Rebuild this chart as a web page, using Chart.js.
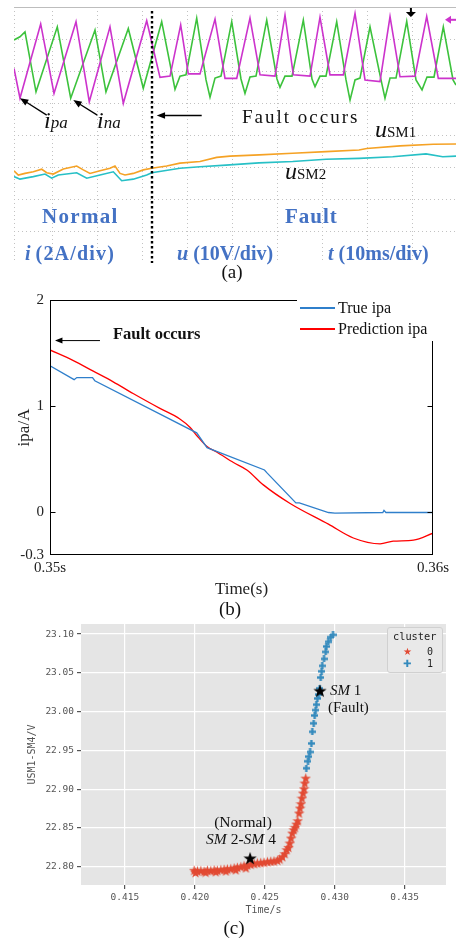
<!DOCTYPE html>
<html>
<head>
<meta charset="utf-8">
<title>ipa fault figure</title>
<script src="https://cdn.jsdelivr.net/npm/chart.js@4.4.1/dist/chart.umd.min.js"></script>
<style>
  body { margin: 0; width: 456px; height: 942px; position: relative; overflow: hidden; background: #fff; font-family: "Liberation Serif", serif; color: #111; }
  canvas { position: absolute; }
  .t { position: absolute; white-space: nowrap; line-height: 1; }
  .blue { color: #4472C4; font-weight: bold; }
  .mono { font-family: "DejaVu Sans Mono", monospace; }
</style>
</head>
<body>
<canvas id="scopeChart" width="442" height="256" style="left:14px;top:7px"></canvas>
<canvas id="ipaChart" width="456" height="320" style="left:0;top:285px"></canvas>
<canvas id="clusterChart" width="456" height="310" style="left:0;top:615px"></canvas>

<!-- (a) oscilloscope labels -->
<div class="t" style="left:44px;top:108px;font-style:italic;font-size:24px">i<span style="font-size:17px">pa</span></div>
<div class="t" style="left:97px;top:108px;font-style:italic;font-size:24px">i<span style="font-size:17px">na</span></div>
<div class="t" style="left:242px;top:107px;font-size:19px;letter-spacing:2px">Fault occurs</div>
<div class="t" style="left:375px;top:117px;font-size:24px"><i>u</i><span style="font-size:15px">SM1</span></div>
<div class="t" style="left:285px;top:159px;font-size:24px"><i>u</i><span style="font-size:15px">SM2</span></div>
<div class="t blue" style="left:42px;top:206px;font-size:21px;letter-spacing:1.3px">Normal</div>
<div class="t blue" style="left:285px;top:206px;font-size:21px;letter-spacing:1px">Fault</div>
<div class="t blue" style="left:25px;top:243px;font-size:20px"><i>i</i> <span style="letter-spacing:1.2px">(2A/div)</span></div>
<div class="t blue" style="left:177px;top:243px;font-size:20px"><i>u</i> (10V/div)</div>
<div class="t blue" style="left:328px;top:243px;font-size:20px"><i>t</i> (10ms/div)</div>
<div class="t" style="left:202px;width:60px;text-align:center;top:262px;font-size:19px">(a)</div>

<!-- (b) legend and labels -->
<div style="position:absolute;left:297px;top:294px;width:145px;height:47px;background:#fff"></div>
<div style="position:absolute;left:300px;top:307px;width:35px;height:2px;background:#2F7FCB"></div>
<div style="position:absolute;left:300px;top:328px;width:35px;height:2px;background:#FF0000"></div>
<div class="t" style="left:338px;top:300px;font-size:16px">True ipa</div>
<div class="t" style="left:338px;top:321px;font-size:16px">Prediction ipa</div>
<div class="t" style="left:113px;top:326px;font-size:16.5px;font-weight:bold">Fault occurs</div>
<div class="t" style="left:200px;width:60px;text-align:center;top:599px;font-size:19px">(b)</div>

<!-- (c) legend and labels -->
<div style="position:absolute;left:387px;top:627px;width:56px;height:46px;background:#e9e9e9;border:1px solid #d0d0d0;border-radius:3px;box-sizing:border-box"></div>
<div class="t mono" style="left:393px;top:631px;font-size:10.3px;color:#222">cluster</div>
<div class="t" style="left:403px;top:647px;font-size:10px;font-family:'DejaVu Sans';color:#E24A33">★</div>
<div class="t mono" style="left:427px;top:647px;font-size:10px;color:#222">0</div>
<div class="t" style="left:403px;top:659px;font-size:10px;font-family:'DejaVu Sans';color:#348ABD">✚</div>
<div class="t mono" style="left:427px;top:659px;font-size:10px;color:#222">1</div>
<div class="t" style="left:330px;top:683px;font-size:15px"><i>SM</i> 1</div>
<div class="t" style="left:328px;top:700px;font-size:15px">(Fault)</div>
<div class="t" style="left:203px;width:80px;text-align:center;top:814px;font-size:15.5px">(Normal)</div>
<div class="t" style="left:198px;width:86px;text-align:center;top:831px;font-size:15.5px"><i>SM</i> 2<b>-</b><i>SM</i> 4</div>
<div class="t" style="left:204px;width:60px;text-align:center;top:918px;font-size:19px">(c)</div>

<script>
// ---- (a) oscilloscope traces: time in ms (10 ms/div), level in screen divisions ----
var ipaTime = [0, 1.33, 5.93, 8.89, 13.78, 16.73, 21.33, 24.29, 29.49, 32.44, 34.67, 37.04, 38.73, 41.33, 44.67, 46.89, 49.49, 52.44, 54.67, 58.00, 60.22, 62.07, 65.78, 68.00, 70.22, 73.18, 75.78, 78.00, 81.33, 83.56, 85.78, 89.11, 91.71, 94.29, 98.22];
var ipaDiv = [6.08, 5.15, 7.47, 5.30, 7.54, 5.04, 7.38, 4.99, 7.57, 5.80, 5.84, 7.44, 5.91, 5.91, 7.62, 5.77, 5.77, 7.65, 5.88, 5.84, 7.75, 5.88, 5.84, 7.68, 5.88, 5.88, 7.80, 5.72, 5.67, 7.70, 5.82, 5.84, 7.70, 5.77, 5.77];
var inaTime = [0, 1.33, 2.44, 4.89, 9.62, 12.60, 18.00, 20.44, 25.40, 28.73, 32.82, 35.78, 36.89, 38.22, 40.60, 42.67, 43.56, 44.67, 46.00, 48.38, 50.44, 51.33, 52.44, 53.78, 56.16, 58.44, 59.11, 60.22, 61.78, 64.29, 66.22, 66.89, 68.00, 69.33, 71.71, 73.78, 74.67, 75.78, 76.89, 79.11, 81.56, 82.44, 83.56, 84.89, 87.27, 89.33, 90.67, 91.78, 93.33, 95.40, 97.56, 98.22];
var inaDiv = [6.97, 7.07, 7.22, 5.35, 7.38, 5.15, 7.28, 5.35, 7.33, 5.46, 7.54, 5.43, 5.84, 5.88, 7.65, 5.72, 5.18, 5.78, 5.84, 7.54, 5.75, 5.30, 5.81, 5.84, 7.59, 5.75, 5.49, 5.84, 5.84, 7.59, 5.75, 5.51, 5.84, 5.84, 7.54, 5.72, 5.09, 5.72, 5.78, 7.38, 5.72, 5.15, 5.78, 5.78, 7.55, 5.72, 5.41, 5.81, 5.81, 7.38, 5.72, 5.56];
var usm1Time = [0, 0.96, 2.44, 4.29, 6.16, 7.27, 8.73, 10.96, 13.93, 15.40, 16.89, 19.11, 21.33, 22.44, 23.56, 24.67, 26.51, 28.73, 30.60, 33.93, 36.89, 41.33, 45.04, 48.00, 54.51, 61.93, 69.33, 76.67, 78.38, 85.78, 93.18, 98.22];
var usm1Div = [2.88, 2.75, 2.80, 2.85, 2.93, 2.82, 2.78, 2.94, 3.03, 2.91, 2.80, 2.88, 2.96, 3.03, 2.80, 2.75, 2.80, 2.91, 2.96, 3.03, 3.12, 3.17, 3.30, 3.34, 3.38, 3.43, 3.48, 3.53, 3.58, 3.66, 3.71, 3.72];
var usm2Time = [0, 1.33, 4.29, 6.89, 8.38, 9.84, 13.93, 16.16, 19.11, 22.07, 23.93, 26.51, 29.49, 30.60, 36.89, 41.33, 47.11, 54.44, 61.93, 69.33, 76.67, 84.16, 91.56, 95.27, 98.22];
var usm2Div = [2.70, 2.62, 2.70, 2.78, 2.65, 2.75, 2.82, 2.65, 2.75, 2.85, 2.57, 2.62, 2.75, 2.82, 2.96, 3.01, 3.06, 3.13, 3.17, 3.24, 3.27, 3.32, 3.41, 3.32, 3.34];
var scopeGridMs = [0, 8.6, 18.6, 28.6, 38.6, 48.6, 58.6, 68.6, 78.6, 88.6];
var scopeGridDiv = [1, 2, 3, 4, 5, 6, 7];
var faultTime = 30.67;
var triggerTime = 88.2;
var ipaRefLevel = 7.6;
// arrows: [fromTime, fromDiv, toTime, toDiv]
var scopeArrows = [[7.27, 4.62, 1.33, 5.15], [18.51, 4.62, 13.18, 5.09], [41.71, 4.61, 31.71, 4.61]];

// ---- (b) true vs predicted ipa ----
var trueTime = [0.35000, 0.35063, 0.35070, 0.35111, 0.35117, 0.35383, 0.35410, 0.35560, 0.35566, 0.35642, 0.35651, 0.35727, 0.35744, 0.35869, 0.35872, 0.35877, 0.36000];
var trueIpa = [1.38, 1.25, 1.27, 1.27, 1.24, 0.75, 0.61, 0.40, 0.375, 0.09, 0.09, 0.00, -0.005, 0.0, 0.02, 0.0, 0.0];
var predTime = [0.35000, 0.35061, 0.35113, 0.35165, 0.35217, 0.35287, 0.35339, 0.35366, 0.35383, 0.35410, 0.35435, 0.35479, 0.35514, 0.35557, 0.35627, 0.35727, 0.35792, 0.35862, 0.35896, 0.35949, 0.36000];
var predIpa = [1.53, 1.43, 1.33, 1.23, 1.12, 0.98, 0.88, 0.80, 0.725, 0.62, 0.57, 0.47, 0.40, 0.26, 0.085, -0.11, -0.24, -0.295, -0.27, -0.26, -0.195];
var timeTicks = [0.35, 0.36];
var ipaTickValues = [-0.4, 0, 1, 2];
var ipaTickLabels = ["-0.3", "0", "1", "2"];
var faultArrow = [0.351305, 0.35013, 1.618];

// ---- (c) clustering of SM voltages ----
var cluster0Time = [0.41995, 0.42019, 0.42043, 0.42066, 0.42090, 0.42114, 0.42138, 0.42161, 0.42186, 0.42209, 0.42233, 0.42257, 0.42281, 0.42304, 0.42329, 0.42352, 0.42376, 0.42400, 0.42424, 0.42447, 0.42471, 0.42495, 0.42519, 0.42543, 0.42566, 0.42590, 0.42607, 0.42626, 0.42643, 0.42657, 0.42669, 0.42679, 0.42688, 0.42697, 0.42707, 0.42716, 0.42726, 0.42736, 0.42745, 0.42752, 0.42759, 0.42766, 0.42774, 0.42781, 0.42786, 0.42793, 0.42005, 0.42078, 0.42150, 0.42222, 0.42293, 0.42365];
var cluster0Volt = [22.7954, 22.7945, 22.7949, 22.7941, 22.7954, 22.7949, 22.7957, 22.7954, 22.7961, 22.7966, 22.7970, 22.7974, 22.7983, 22.7992, 22.8000, 22.8013, 22.8022, 22.8031, 22.8039, 22.8048, 22.8052, 22.8057, 22.8064, 22.8070, 22.8073, 22.8082, 22.8099, 22.8129, 22.8168, 22.8219, 22.8250, 22.8305, 22.8370, 22.8434, 22.8477, 22.8508, 22.8550, 22.8593, 22.8692, 22.8757, 22.8812, 22.8885, 22.8950, 22.9005, 22.9079, 22.9143, 22.7925, 22.7930, 22.7935, 22.7945, 22.7960, 22.7985];
var cluster1Time = [0.42797, 0.42809, 0.42816, 0.42824, 0.42833, 0.42840, 0.42850, 0.42857, 0.42864, 0.42869, 0.42876, 0.42887, 0.42893, 0.42900, 0.42907, 0.42911, 0.42924, 0.42936, 0.42940, 0.42954, 0.42971, 0.42988];
var cluster1Volt = [22.927, 22.936, 22.942, 22.948, 22.959, 22.974, 22.985, 22.995, 23.002, 23.009, 23.017, 23.022, 23.030, 23.044, 23.052, 23.059, 23.068, 23.077, 23.084, 23.090, 23.096, 23.099];
var markTime = [0.42395, 0.42895];
var markVolt = [22.811, 23.027];
var clusterTimeTicks = [0.415, 0.420, 0.425, 0.430, 0.435];
var clusterVoltTicks = [22.80, 22.85, 22.90, 22.95, 23.00, 23.05, 23.10];

function pairs(xs, ys) {
  return xs.map(function (v, i) { return { x: v, y: ys[i] }; });
}

function tickList(values) {
  return function (scale) { scale.ticks = values.map(function (v) { return { value: v }; }); };
}

function drawArrow(ctx, x1, y1, x2, y2, head, width) {
  var ang = Math.atan2(y2 - y1, x2 - x1);
  ctx.lineWidth = width;
  ctx.beginPath();
  ctx.moveTo(x1, y1);
  ctx.lineTo(x2 - Math.cos(ang) * head * 0.7, y2 - Math.sin(ang) * head * 0.7);
  ctx.stroke();
  ctx.beginPath();
  ctx.moveTo(x2, y2);
  ctx.lineTo(x2 - head * Math.cos(ang - 0.38), y2 - head * Math.sin(ang - 0.38));
  ctx.lineTo(x2 - head * Math.cos(ang + 0.38), y2 - head * Math.sin(ang + 0.38));
  ctx.closePath();
  ctx.fill();
}

// marker images for the scatter
function starImage(size, color) {
  var c = document.createElement("canvas");
  c.width = c.height = size;
  var g = c.getContext("2d");
  g.fillStyle = color;
  g.beginPath();
  for (var i = 0; i < 10; i++) {
    var r = i % 2 ? size * 0.2 : size * 0.5;
    var a = -Math.PI / 2 + i * Math.PI / 5;
    g.lineTo(size / 2 + r * Math.cos(a), size * 0.55 + r * Math.sin(a));
  }
  g.closePath();
  g.fill();
  return c;
}

function plusImage(size, color) {
  var c = document.createElement("canvas");
  c.width = c.height = size;
  var g = c.getContext("2d");
  var w = size / 3;
  g.fillStyle = color;
  g.fillRect(w, 0, w, size);
  g.fillRect(0, w, size, w);
  return c;
}

var serif = "'Liberation Serif', serif";
var mono = "'DejaVu Sans Mono', monospace";

// ---------------- (a) ----------------
var scopeOverlay = {
  id: "scopeOverlay",
  afterDatasetsDraw: function (chart) {
    var ctx = chart.ctx, a = chart.chartArea, x = chart.scales.x, y = chart.scales.y;
    ctx.save();
    ctx.strokeStyle = "#bdbdbd";
    ctx.lineWidth = 1;
    ctx.beginPath();
    ctx.moveTo(a.left, a.top + 0.5);
    ctx.lineTo(a.right, a.top + 0.5);
    ctx.stroke();

    var fx = Math.round(x.getPixelForValue(faultTime));
    ctx.strokeStyle = "#000";
    ctx.lineWidth = 2.4;
    ctx.setLineDash([2.5, 2.5]);
    ctx.beginPath();
    ctx.moveTo(fx, a.top + 4);
    ctx.lineTo(fx, a.bottom);
    ctx.stroke();
    ctx.setLineDash([]);

    ctx.fillStyle = "#000";
    scopeArrows.forEach(function (ar) {
      drawArrow(ctx, x.getPixelForValue(ar[0]), y.getPixelForValue(ar[1]), x.getPixelForValue(ar[2]), y.getPixelForValue(ar[3]), 9, 1.3);
    });

    // trigger marker
    var tx = x.getPixelForValue(triggerTime);
    ctx.fillRect(tx - 1, a.top + 1, 2, 5);
    ctx.beginPath();
    ctx.moveTo(tx - 5, a.top + 5);
    ctx.lineTo(tx + 5, a.top + 5);
    ctx.lineTo(tx, a.top + 10);
    ctx.closePath();
    ctx.fill();

    // ipa channel marker
    var my = y.getPixelForValue(ipaRefLevel);
    ctx.fillStyle = "#CC33CC";
    ctx.beginPath();
    ctx.moveTo(a.right - 11, my);
    ctx.lineTo(a.right - 5, my - 4);
    ctx.lineTo(a.right - 5, my + 4);
    ctx.closePath();
    ctx.fill();
    ctx.fillRect(a.right - 6, my - 1, 6, 2);
    ctx.restore();
  }
};

function traceStyle(color) {
  return { borderColor: color, borderWidth: 1.6, pointRadius: 0, tension: 0, fill: false };
}

new Chart(document.getElementById("scopeChart"), {
  type: "line",
  data: {
    datasets: [
      Object.assign({ label: "ipa", data: pairs(ipaTime, ipaDiv) }, traceStyle("#CC33CC")),
      Object.assign({ label: "ina", data: pairs(inaTime, inaDiv) }, traceStyle("#3CC23C")),
      Object.assign({ label: "uSM1", data: pairs(usm1Time, usm1Div) }, traceStyle("#F5A225")),
      Object.assign({ label: "uSM2", data: pairs(usm2Time, usm2Div) }, traceStyle("#27C0C6"))
    ]
  },
  options: {
    responsive: false,
    animation: false,
    layout: { padding: 0 },
    plugins: { legend: { display: false }, tooltip: { enabled: false } },
    scales: {
      x: {
        type: "linear", min: 0, max: 98.22,
        afterBuildTicks: tickList(scopeGridMs),
        afterFit: function (s) { s.height = 0; },
        ticks: { display: false },
        grid: { color: "#c2c2c2", drawTicks: false, lineWidth: 1 },
        border: { display: false, dash: [1, 3] }
      },
      y: {
        min: 0, max: 8,
        afterBuildTicks: tickList(scopeGridDiv),
        afterFit: function (s) { s.width = 0; },
        ticks: { display: false },
        grid: { color: "#c2c2c2", drawTicks: false, lineWidth: 1 },
        border: { display: false, dash: [1, 3] }
      }
    }
  },
  plugins: [scopeOverlay]
});

// ---------------- (b) ----------------
var ipaFrame = {
  id: "ipaFrame",
  afterDraw: function (chart) {
    var ctx = chart.ctx, a = chart.chartArea, x = chart.scales.x, y = chart.scales.y;
    ctx.save();
    ctx.strokeStyle = "#000";
    ctx.fillStyle = "#000";
    ctx.lineWidth = 1;
    var l = Math.round(a.left) + 0.5, r = Math.round(a.right) - 0.5;
    var t = Math.round(a.top) + 0.5, b = Math.round(a.bottom) - 0.5;
    ctx.strokeRect(l, t, r - l, b - t);
    ctx.beginPath();
    ipaTickValues.forEach(function (v) {
      if (v <= y.min || v >= y.max) return;
      var py = Math.round(y.getPixelForValue(v)) + 0.5;
      ctx.moveTo(l, py); ctx.lineTo(l + 5, py);
      ctx.moveTo(r - 5, py); ctx.lineTo(r, py);
    });
    ctx.stroke();
    var ay = y.getPixelForValue(faultArrow[2]);
    drawArrow(ctx, x.getPixelForValue(faultArrow[0]), ay, x.getPixelForValue(faultArrow[1]), ay, 8, 1);
    ctx.restore();
  }
};

new Chart(document.getElementById("ipaChart"), {
  type: "line",
  data: {
    datasets: [
      { label: "True ipa", data: pairs(trueTime, trueIpa), borderColor: "#2F7FCB", borderWidth: 1.3, pointRadius: 0, tension: 0 },
      { label: "Prediction ipa", data: pairs(predTime, predIpa), borderColor: "#FF0000", borderWidth: 1.3, pointRadius: 0, cubicInterpolationMode: "monotone" }
    ]
  },
  options: {
    responsive: false,
    animation: false,
    layout: { padding: { top: 8, right: 23, left: 0, bottom: 0 } },
    plugins: { legend: { display: false }, tooltip: { enabled: false } },
    scales: {
      x: {
        type: "linear", min: 0.35, max: 0.36,
        afterBuildTicks: tickList(timeTicks),
        afterFit: function (s) { s.height = 50; },
        ticks: { callback: function (v) { return v.toFixed(2) + "s"; }, font: { family: serif, size: 15 }, color: "#222", padding: 4, maxRotation: 0, autoSkip: false },
        grid: { display: false, drawTicks: false },
        border: { display: false },
        title: { display: true, text: "Time(s)", font: { family: serif, size: 17 }, color: "#222", padding: { top: 0, bottom: 5 } }
      },
      y: {
        min: -0.4, max: 2,
        afterBuildTicks: tickList(ipaTickValues),
        afterFit: function (s) { s.width = 50; },
        ticks: { callback: function (v, i) { return ipaTickLabels[i]; }, font: { family: serif, size: 15 }, color: "#222", padding: 6 },
        grid: { display: false, drawTicks: false },
        border: { display: false },
        title: { display: true, text: "ipa/A", font: { family: serif, size: 17 }, color: "#222", padding: { top: 14, bottom: 0 } }
      }
    }
  },
  plugins: [ipaFrame]
});

// ---------------- (c) ----------------
var panelBackground = {
  id: "panelBackground",
  beforeDraw: function (chart) {
    var a = chart.chartArea;
    chart.ctx.save();
    chart.ctx.fillStyle = "#E5E5E5";
    chart.ctx.fillRect(a.left, a.top, a.right - a.left, a.bottom - a.top);
    chart.ctx.restore();
  }
};

new Chart(document.getElementById("clusterChart"), {
  type: "scatter",
  data: {
    datasets: [
      { label: "marked", data: pairs(markTime, markVolt), pointStyle: starImage(14, "#000"), pointRadius: 7 },
      { label: "1", data: pairs(cluster1Time, cluster1Volt), pointStyle: plusImage(7, "#348ABD"), pointRadius: 4 },
      { label: "0", data: pairs(cluster0Time, cluster0Volt), pointStyle: starImage(11, "#E24A33"), pointRadius: 5 }
    ]
  },
  options: {
    responsive: false,
    animation: false,
    layout: { padding: { top: 9, right: 10, left: 0, bottom: 0 } },
    plugins: { legend: { display: false }, tooltip: { enabled: false } },
    scales: {
      x: {
        type: "linear", min: 0.41186, max: 0.43796,
        afterBuildTicks: tickList(clusterTimeTicks),
        afterFit: function (s) { s.height = 40; },
        ticks: { callback: function (v) { return v.toFixed(3); }, font: { family: mono, size: 9.5 }, color: "#555", padding: 3, maxRotation: 0, autoSkip: false },
        grid: { color: "#fff", lineWidth: 1.2, tickColor: "#555", tickLength: 4 },
        border: { display: false },
        title: { display: true, text: "Time/s", font: { family: mono, size: 10 }, color: "#555", padding: { top: 0, bottom: 9 } }
      },
      y: {
        min: 22.7764, max: 23.113,
        afterBuildTicks: tickList(clusterVoltTicks),
        afterFit: function (s) { s.width = 81; },
        ticks: { callback: function (v) { return v.toFixed(2); }, font: { family: mono, size: 9.5 }, color: "#555", padding: 3 },
        grid: { color: "#fff", lineWidth: 1.2, tickColor: "#555", tickLength: 4 },
        border: { display: false },
        title: { display: true, text: "USM1-SM4/V", font: { family: mono, size: 10 }, color: "#555", padding: { top: 26, bottom: 0 } }
      }
    }
  },
  plugins: [panelBackground]
});
</script>
</body>
</html>
